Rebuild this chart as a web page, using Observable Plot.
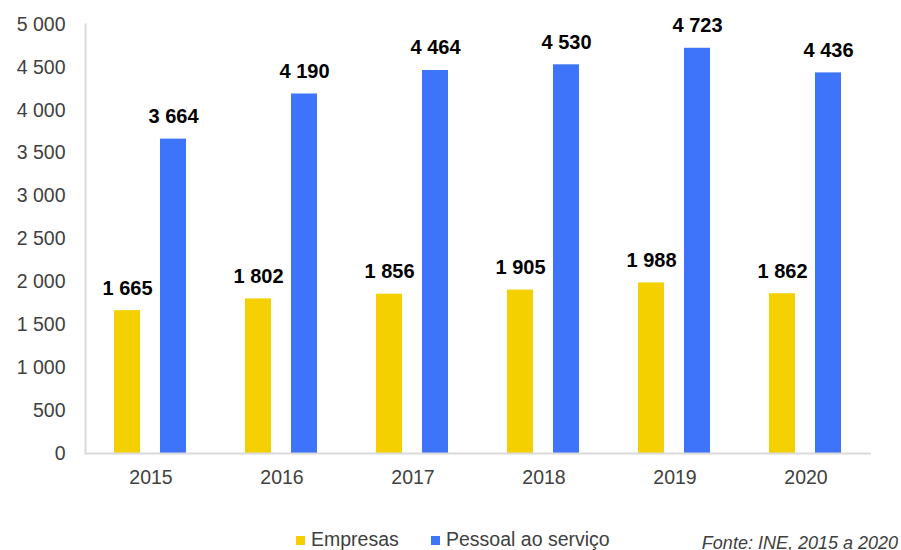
<!DOCTYPE html>
<html><head><meta charset="utf-8">
<script src="https://cdn.jsdelivr.net/npm/d3@7"></script>
<script src="https://cdn.jsdelivr.net/npm/@observablehq/plot@0.6"></script>
<style>
body{margin:0;background:#fff;font-family:"Liberation Sans",Arial,sans-serif;}
#wrap{position:relative;width:901px;height:550px;overflow:hidden;}
#legend{position:absolute;left:0;top:527px;height:24px;font-size:19.5px;color:#404040;}
.item{position:absolute;top:0;white-space:nowrap;line-height:24px;}
.sw{display:inline-block;width:9px;height:9px;margin-right:6px;vertical-align:1px;}
#caption{position:absolute;right:3px;top:531px;font-size:18px;font-style:italic;color:#404040;white-space:nowrap;line-height:24px;}
</style></head><body>
<div id="wrap"><div id="chart"></div><div id="legend"></div><div id="caption">Fonte: INE, 2015 a 2020</div></div>
<script>
const years = ["2015","2016","2017","2018","2019","2020"];
const series = ["Empresas","Pessoal ao serviço"];
const empresas = [1665,1802,1856,1905,1988,1862];
const pessoal = [3664,4190,4464,4530,4723,4436];
const colors = ["#F4D000","#3D74FA"];
const yTicks = [0,500,1000,1500,2000,2500,3000,3500,4000,4500,5000];

const fmt = d3.formatLocale({decimal:",",thousands:" ",grouping:[3],currency:["","€"]}).format(",d");
const data = [];
years.forEach((y,i)=>{
  data.push({year:y, series:series[0], value:empresas[i]});
  data.push({year:y, series:series[1], value:pessoal[i]});
});

const chart = Plot.plot({
  width:901, height:490,
  marginLeft:82, marginRight:28, marginTop:24, marginBottom:37,
  style:{fontFamily:'"Liberation Sans", Arial, sans-serif', fontSize:"19.5px", color:"#404040", background:"white", overflow:"visible"},
  fx:{domain:years, padding:0, label:null, axis:"bottom", tickSize:0, tickPadding:17},
  x:{domain:series, paddingInner:0.426, paddingOuter:0.607, axis:null},
  y:{domain:[0,5000], ticks:yTicks, tickFormat:fmt, label:null, tickSize:0, tickPadding:20},
  color:{domain:series, range:colors},
  marks:[
    Plot.barY(data, {fx:"year", x:"series", y:"value", fill:"series"}),
    Plot.text(data, {fx:"year", x:"series", y:"value", text:d=>fmt(d.value), lineAnchor:"bottom", dy:-16, fontWeight:"bold", fill:"black", fontSize:20}),
    Plot.ruleY([0], {stroke:"#d9d9d9", strokeWidth:2}),
    Plot.frame({anchor:"left", facet:"super", stroke:"#d9d9d9", strokeWidth:2})
  ]
});
document.getElementById("chart").appendChild(chart);

const legend = document.getElementById("legend");
const lefts = [296, 431];
series.forEach((s,i)=>{
  const it = document.createElement("div");
  it.className = "item";
  it.style.left = lefts[i] + "px";
  const sw = document.createElement("span");
  sw.className = "sw";
  sw.style.background = colors[i];
  it.appendChild(sw);
  it.appendChild(document.createTextNode(s));
  legend.appendChild(it);
});
</script>
</body></html>
